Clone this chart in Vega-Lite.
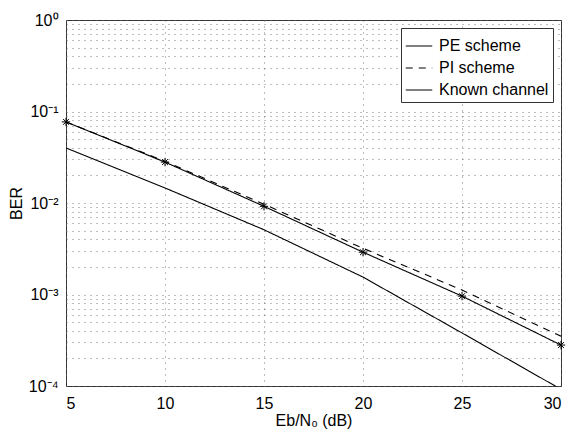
{
  "$schema": "https://vega.github.io/schema/vega-lite/v6.json",
  "width": 495,
  "height": 366,
  "autosize": "none",
  "padding": {"left": 66, "top": 20, "right": 9, "bottom": 50},
  "background": "white",
  "config": {
    "font": "Liberation Sans",
    "view": {"stroke": "#333", "strokeWidth": 1},
    "axis": {
      "labelFont": "Liberation Sans",
      "titleFont": "Liberation Sans",
      "labelFontSize": 16,
      "titleFontSize": 16,
      "titleFontWeight": "normal",
      "labelColor": "black",
      "titleColor": "black",
      "domain": false,
      "ticks": false,
      "grid": true,
      "gridColor": "#666",
      "gridDash": [1, 5],
      "gridWidth": 1,
      "gridOpacity": 0.85
    },
    "legend": {
      "labelFont": "Liberation Sans",
      "labelFontSize": 16,
      "labelColor": "black"
    }
  },
  "data": {
    "values": [
      {"snr": 5, "ber": 0.077, "series": "PE scheme"},
      {"snr": 10, "ber": 0.028, "series": "PE scheme"},
      {"snr": 15, "ber": 0.0092, "series": "PE scheme"},
      {"snr": 20, "ber": 0.0029, "series": "PE scheme"},
      {"snr": 25, "ber": 0.00096, "series": "PE scheme"},
      {"snr": 30, "ber": 0.00028, "series": "PE scheme"},
      {"snr": 5, "ber": 0.077, "series": "PI scheme"},
      {"snr": 10, "ber": 0.0285, "series": "PI scheme"},
      {"snr": 15, "ber": 0.0097, "series": "PI scheme"},
      {"snr": 20, "ber": 0.0032, "series": "PI scheme"},
      {"snr": 25, "ber": 0.00112, "series": "PI scheme"},
      {"snr": 30, "ber": 0.00035, "series": "PI scheme"},
      {"snr": 5, "ber": 0.04, "series": "Known channel"},
      {"snr": 10, "ber": 0.0146, "series": "Known channel"},
      {"snr": 15, "ber": 0.0051, "series": "Known channel"},
      {"snr": 20, "ber": 0.00155, "series": "Known channel"},
      {"snr": 25, "ber": 0.00038, "series": "Known channel"},
      {"snr": 30, "ber": 0.000092, "series": "Known channel"}
    ]
  },
  "encoding": {
    "x": {
      "field": "snr",
      "type": "quantitative",
      "scale": {"domain": [5, 30], "nice": false, "zero": false},
      "axis": {
        "values": [5, 10, 15, 20, 25, 30],
        "title": "Eb/N₀ (dB)",
        "titlePadding": 1,
        "labelPadding": 9
      }
    },
    "y": {
      "field": "ber",
      "type": "quantitative",
      "scale": {"type": "log", "domain": [0.0001, 1], "nice": false},
      "axis": {
        "values": [0.0001, 0.0002, 0.0003, 0.0004, 0.0005, 0.0006, 0.0007, 0.0008, 0.0009,
                   0.001, 0.002, 0.003, 0.004, 0.005, 0.006, 0.007, 0.008, 0.009,
                   0.01, 0.02, 0.03, 0.04, 0.05, 0.06, 0.07, 0.08, 0.09,
                   0.1, 0.2, 0.3, 0.4, 0.5, 0.6, 0.7, 0.8, 0.9, 1],
        "labelExpr": "datum.value==1?'10⁰':datum.value==0.1?'10⁻¹':datum.value==0.01?'10⁻²':datum.value==0.001?'10⁻³':datum.value==0.0001?'10⁻⁴':''",
        "title": "BER",
        "titlePadding": 4,
        "labelPadding": 8
      }
    }
  },
  "layer": [
    {
      "mark": {"type": "line", "clip": true, "strokeWidth": 1.1},
      "encoding": {
        "color": {"value": "black"},
        "strokeDash": {
          "field": "series",
          "type": "nominal",
          "scale": {
            "domain": ["PE scheme", "PI scheme", "Known channel"],
            "range": [[1, 0], [7, 6], [1, 0]]
          },
          "legend": {
            "title": null,
            "orient": "top-right",
            "offset": 8,
            "symbolType": "stroke",
            "symbolSize": 700,
            "symbolStrokeWidth": 1.2,
            "symbolStrokeColor": "black",
            "strokeColor": "#333",
            "fillColor": "white",
            "padding": 4,
            "rowPadding": -12,
            "labelOffset": 6
          }
        }
      }
    },
    {
      "transform": [{"filter": "datum.series == 'PE scheme'"}],
      "mark": {
        "type": "point",
        "shape": "M-1,0L1,0M0,-1L0,1M-0.7,-0.7L0.7,0.7M-0.7,0.7L0.7,-0.7",
        "filled": false,
        "color": "black",
        "size": 70,
        "strokeWidth": 1,
        "opacity": 1,
        "clip": false
      }
    }
  ]
}
